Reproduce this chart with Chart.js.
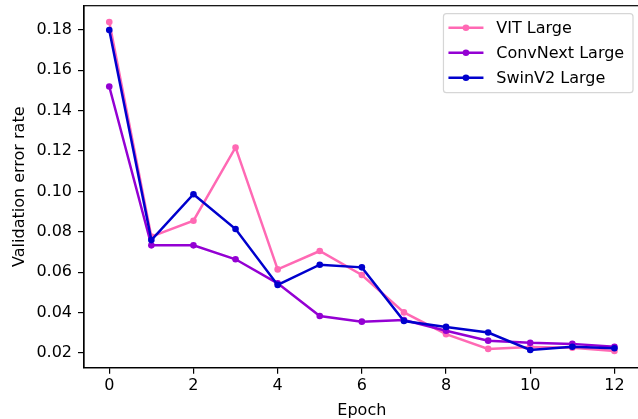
<!DOCTYPE html>
<html>
<head>
    <script src="https://cdn.jsdelivr.net/npm/chart.js@4.4.0/dist/chart.umd.min.js"></script>
    <style>
        html, body {
            margin: 0;
            padding: 0;
            overflow: hidden;
            background: #fff;
        }

        #wrap {
            width: 643px;
            height: 419px;
        }
    </style>
</head>
<body>
    <div id="wrap"><canvas id="chart" width="643" height="419"></canvas></div>
    <script>
        const epochs = [0, 1, 2, 3, 4, 5, 6, 7, 8, 9, 10, 11, 12];
        const vitLarge = [0.1839, 0.0776, 0.0855, 0.1218, 0.0614, 0.0705, 0.0586, 0.0401, 0.0293, 0.0220, 0.0230, 0.0226, 0.0210];
        const convNextLarge = [0.1520, 0.0733, 0.0733, 0.0664, 0.0545, 0.0383, 0.0355, 0.0363, 0.0310, 0.0261, 0.0250, 0.0245, 0.0231];
        const swinV2Large = [0.1800, 0.0759, 0.0986, 0.0814, 0.0537, 0.0637, 0.0624, 0.0358, 0.0329, 0.0301, 0.0215, 0.0231, 0.0223];
        const xTicks = [0, 2, 4, 6, 8, 10, 12];
        const yTicks = [0.02, 0.04, 0.06, 0.08, 0.10, 0.12, 0.14, 0.16, 0.18];

        const FONT = "'DejaVu Sans', sans-serif";
        const FS = 16;

        function series(label, ys, color, order) {
            return {
                label: label,
                data: epochs.map((x, i) => ({ x: x, y: ys[i] })),
                borderColor: color,
                backgroundColor: color,
                borderWidth: 2.5,
                pointRadius: 3.3,
                pointBorderWidth: 0,
                pointHoverRadius: 3.3,
                tension: 0,
                order: order
            };
        }

        // box around the axes, matplotlib style
        const frame = {
            id: 'frame',
            afterDatasetsDraw(chart) {
                const a = chart.chartArea;
                const ctx = chart.ctx;
                ctx.save();
                ctx.strokeStyle = '#000';
                ctx.lineWidth = 1.2;
                ctx.strokeRect(a.left, a.top, a.right - a.left, a.bottom - a.top);
                ctx.restore();
            }
        };

        // legend box in the upper right corner
        const mplLegend = {
            id: 'mplLegend',
            afterDraw(chart) {
                const a = chart.chartArea;
                const ctx = chart.ctx;
                const sets = chart.data.datasets;
                ctx.save();
                ctx.font = FS + 'px ' + FONT;
                let tw = 0;
                sets.forEach(d => { tw = Math.max(tw, ctx.measureText(d.label).width); });
                const pad = 6.4, handle = 35, gap = 12.8, rowH = 25;
                const w = pad + handle + gap + tw + pad + 1;
                const h = 79;
                const right = 633;
                const left = right - w;
                const top = a.top + 8;
                ctx.beginPath();
                ctx.roundRect(left, top, w, h, 3);
                ctx.fillStyle = 'rgba(255,255,255,0.8)';
                ctx.fill();
                ctx.strokeStyle = '#d6d6d6';
                ctx.lineWidth = 1.2;
                ctx.stroke();
                sets.forEach((d, i) => {
                    const cy = top + 14 + i * rowH;
                    const hx = left + 5;
                    ctx.strokeStyle = d.borderColor;
                    ctx.lineWidth = 2.5;
                    ctx.beginPath();
                    ctx.moveTo(hx, cy);
                    ctx.lineTo(hx + handle, cy);
                    ctx.stroke();
                    ctx.fillStyle = d.borderColor;
                    ctx.beginPath();
                    ctx.arc(hx + handle / 2, cy, 3.3, 0, Math.PI * 2);
                    ctx.fill();
                    ctx.fillStyle = '#000';
                    ctx.textBaseline = 'middle';
                    ctx.textAlign = 'left';
                    ctx.fillText(d.label, hx + handle + gap, cy + 1);
                });
                ctx.restore();
            }
        };

        new Chart(document.getElementById('chart').getContext('2d'), {
            type: 'line',
            data: {
                datasets: [
                    series('VIT Large', vitLarge, '#ff69b4', 3),
                    series('ConvNext Large', convNextLarge, '#9400d3', 2),
                    series('SwinV2 Large', swinV2Large, '#0000cd', 1)
                ]
            },
            options: {
                responsive: false,
                animation: false,
                devicePixelRatio: 1,
                layout: { padding: { top: 5.7, right: 1, left: 0, bottom: 0 } },
                plugins: {
                    legend: { display: false },
                    tooltip: { enabled: false }
                },
                scales: {
                    x: {
                        type: 'linear',
                        min: -0.6,
                        max: 12.6,
                        afterBuildTicks: s => { s.ticks = xTicks.map(v => ({ value: v })); },
                        afterFit: s => { s.height = 51.3; s.paddingLeft = 0; s.paddingRight = 0; },
                        grid: { drawOnChartArea: false, drawTicks: true, tickLength: 6, tickColor: '#000', lineWidth: 1.2 },
                        border: { display: true, color: '#000', width: 1.2 },
                        ticks: { color: '#000', font: { family: FONT, size: FS }, padding: 3, maxRotation: 0 },
                        title: { display: true, text: 'Epoch', color: '#000', font: { family: FONT, size: FS }, padding: { top: 0, bottom: -1 } }
                    },
                    y: {
                        type: 'linear',
                        min: 0.0127,
                        max: 0.192,
                        afterBuildTicks: s => { s.ticks = yTicks.map(v => ({ value: v })); },
                        afterFit: s => { s.width = 84; s.paddingTop = 0; s.paddingBottom = 0; },
                        grid: { drawOnChartArea: false, drawTicks: true, tickLength: 6, tickColor: '#000', lineWidth: 1.2 },
                        border: { display: true, color: '#000', width: 1.2 },
                        ticks: { color: '#000', font: { family: FONT, size: FS }, padding: 6, callback: v => v.toFixed(2) },
                        title: { display: true, text: 'Validation error rate', color: '#000', font: { family: FONT, size: FS }, padding: { top: 10, bottom: 0 } }
                    }
                }
            },
            plugins: [frame, mplLegend]
        });
    </script>
</body>
</html>
